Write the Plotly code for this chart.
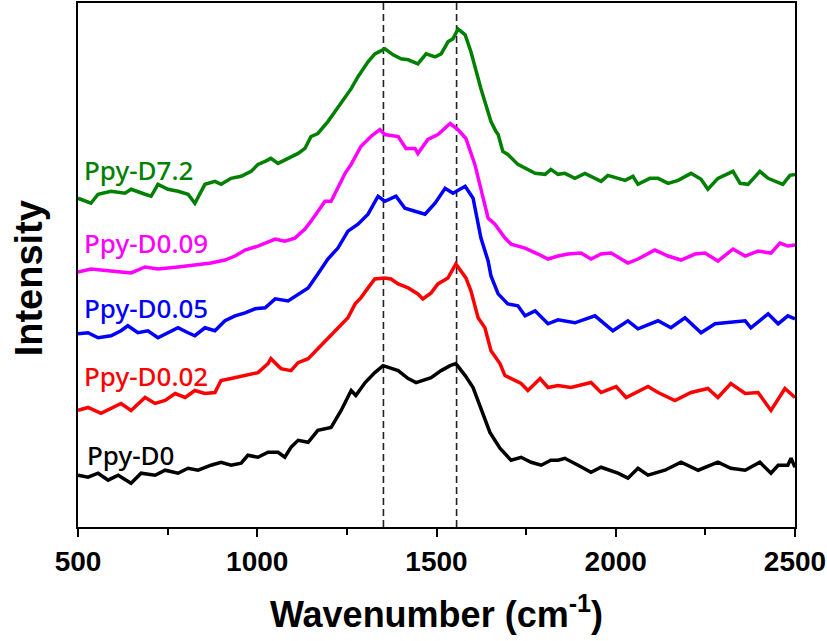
import plotly.graph_objects as go

# ---------------- data (wavenumber in cm-1, intensity in arbitrary units, offset-stacked) -------------
wn_d0 = [500, 528, 556, 584, 612, 648, 676, 715, 743, 779, 807, 835, 871, 899, 927, 955, 974, 1002,
         1030, 1058, 1077, 1094, 1114, 1142, 1169, 1206, 1234, 1262, 1275, 1301, 1328, 1351, 1393,
         1421, 1443, 1485, 1513, 1538, 1554, 1580, 1602, 1624, 1649, 1677, 1708, 1736, 1764, 1792,
         1819, 1839, 1858, 1895, 1931, 1959, 2006, 2034, 2062, 2090, 2137, 2182, 2230, 2285, 2321,
         2361, 2402, 2433, 2453, 2480, 2489, 2500]
int_d0 = [52, 50, 54, 47, 52, 44, 54, 52, 57, 54, 59, 57, 62, 65, 62, 64, 72, 70,
          75, 75, 70, 80, 87, 85, 97, 100, 117, 137, 132, 145, 155, 162, 157,
          149, 145, 150, 157, 162, 164, 152, 140, 120, 95, 79, 67, 70, 65, 62,
          67, 67, 69, 62, 55, 60, 54, 49, 59, 52, 57, 65, 57, 65, 59,
          57, 65, 54, 62, 62, 69, 60]

wn_d002 = [500, 528, 564, 592, 620, 648, 687, 715, 743, 771, 799, 826, 854, 882, 899, 927, 966, 1002,
           1030, 1038, 1066, 1094, 1114, 1142, 1169, 1197, 1225, 1253, 1273, 1289, 1309, 1328, 1356,
           1373, 1393, 1421, 1448, 1462, 1485, 1504, 1532, 1554, 1582, 1596, 1616, 1635, 1652, 1677,
           1691, 1719, 1736, 1755, 1789, 1811, 1839, 1875, 1931, 1959, 2001, 2029, 2090, 2118, 2165,
           2210, 2257, 2285, 2321, 2361, 2397, 2433, 2472, 2500]
int_d002 = [117, 120, 114, 119, 124, 117, 130, 124, 127, 134, 130, 137, 134, 135, 147, 149, 152, 155,
            164, 169, 159, 157, 165, 169, 179, 189, 199, 210, 224, 230, 240, 249, 250,
            249, 244, 240, 234, 229, 235, 244, 250, 264, 250, 237, 210, 200, 177, 164,
            152, 147, 144, 137, 149, 140, 142, 140, 145, 135, 141, 130, 141, 135, 127,
            135, 139, 130, 144, 134, 135, 117, 139, 130]

wn_d005 = [500, 528, 556, 592, 620, 639, 667, 695, 723, 751, 779, 807, 826, 854, 882, 910, 938, 966,
           994, 1022, 1050, 1086, 1114, 1142, 1169, 1197, 1225, 1253, 1281, 1309, 1337, 1356, 1387,
           1412, 1440, 1468, 1496, 1524, 1546, 1580, 1602, 1616, 1624, 1644, 1652, 1672, 1699, 1727,
           1747, 1775, 1811, 1839, 1886, 1942, 1992, 2034, 2062, 2118, 2154, 2193, 2238, 2277, 2305,
           2361, 2377, 2425, 2453, 2480, 2500]
int_d005 = [194, 195, 190, 192, 197, 202, 195, 197, 190, 195, 200, 195, 192, 200, 197, 207, 212, 215,
            219, 220, 229, 227, 234, 240, 254, 269, 280, 297, 304, 314, 332, 327, 332,
            320, 317, 314, 325, 340, 335, 342, 330, 307, 290, 267, 252, 234, 224, 222,
            212, 217, 204, 208, 205, 212, 197, 207, 199, 207, 200, 210, 195, 204, 205,
            207, 200, 214, 204, 212, 209]

wn_d009 = [500, 536, 592, 648, 687, 723, 779, 835, 871, 910, 938, 966, 1002, 1050, 1077, 1105, 1133,
           1150, 1169, 1189, 1206, 1225, 1245, 1262, 1289, 1317, 1342, 1356, 1393, 1415, 1440, 1448,
           1476, 1504, 1538, 1560, 1582, 1607, 1624, 1644, 1663, 1691, 1708, 1747, 1783, 1811, 1839,
           1867, 1903, 1931, 1959, 1987, 2015, 2034, 2062, 2090, 2109, 2146, 2182, 2221, 2249, 2285,
           2327, 2361, 2397, 2433, 2458, 2480, 2500]
int_d009 = [256, 259, 257, 255, 261, 259, 261, 263, 265, 268, 272, 278, 282, 289, 287, 290, 299,
            307, 317, 327, 327, 340, 355, 364, 382, 392, 399, 394, 392, 380, 380, 375,
            389, 394, 405, 399, 390, 364, 340, 310, 304, 290, 284, 280, 274, 269, 272,
            274, 275, 269, 274, 275, 269, 265, 269, 274, 278, 272, 268, 274, 275, 267,
            279, 272, 277, 275, 285, 282, 283]

wn_d72 = [500, 536, 556, 592, 631, 648, 687, 704, 723, 751, 779, 807, 826, 854, 882, 899, 927, 955,
          983, 1002, 1022, 1038, 1058, 1086, 1114, 1133, 1150, 1169, 1197, 1217, 1262, 1281, 1309,
          1328, 1356, 1379, 1401, 1421, 1448, 1471, 1496, 1513, 1532, 1546, 1560, 1580, 1596, 1624,
          1652, 1666, 1672, 1685, 1699, 1727, 1747, 1775, 1803, 1819, 1839, 1858, 1886, 1914, 1959,
          1978, 2026, 2048, 2062, 2095, 2118, 2146, 2174, 2210, 2238, 2257, 2285, 2327, 2347, 2369,
          2402, 2425, 2466, 2486, 2500]
int_d72 = [330, 325, 334, 337, 335, 339, 334, 332, 344, 339, 337, 334, 325, 344, 347, 344, 350, 352,
           357, 364, 367, 370, 365, 370, 375, 380, 392, 395, 407, 417, 440, 452, 467,
           475, 480, 474, 470, 469, 465, 475, 472, 475, 487, 490, 500, 494, 477, 440,
           407, 397, 394, 377, 374, 364, 360, 355, 354, 359, 354, 355, 350, 355, 347,
           353, 348, 352, 344, 350, 350, 345, 348, 355, 349, 339, 350, 357, 345, 344,
           357, 350, 344, 353, 354]

series_names = ["Ppy-D0", "Ppy-D0.02", "Ppy-D0.05", "Ppy-D0.09", "Ppy-D7.2"]
series_x = [wn_d0, wn_d002, wn_d005, wn_d009, wn_d72]
series_y = [int_d0, int_d002, int_d005, int_d009, int_d72]
series_colors = ["#000000", "#FF0000", "#0000FF", "#FF00FF", "#008000"]

band_positions = [1352, 1556]          # D and G band markers (cm-1)
x_tickvals = [500, 1000, 1500, 2000, 2500]

# label anchor positions (wavenumber, intensity)
label_x = [520, 512, 512, 512, 512]
label_y = [72, 152, 220, 285, 358]

# ---------------- figure ----------------
fig = go.Figure()
for name, xs, ys, col in zip(series_names, series_x, series_y, series_colors):
    fig.add_trace(go.Scatter(x=xs, y=ys, mode="lines", name=name,
                             line=dict(color=col, width=3.5), showlegend=False))

for bp in band_positions:
    fig.add_shape(type="line", xref="x", yref="paper", x0=bp, x1=bp, y0=0, y1=1,
                  line=dict(color="#222222", width=1.6, dash="7px,4px"), layer="below")

for name, lx, ly, col in zip(series_names, label_x, label_y, series_colors):
    fig.add_annotation(x=lx, y=ly, xref="x", yref="y", text=name, showarrow=False,
                       xanchor="left", yanchor="middle",
                       font=dict(family="Noto Sans", size=26, color=col, weight=500))

fig.add_annotation(xref="paper", yref="paper", x=-0.068, y=0.475, text="Intensity",
                   textangle=-90, showarrow=False, xanchor="center", yanchor="middle",
                   font=dict(family="Liberation Sans, Arial", size=38, color="black", weight="bold"))

fig.update_layout(
    width=827, height=641,
    margin=dict(l=78, r=32, t=1, b=114),
    plot_bgcolor="white", paper_bgcolor="white",
    xaxis=dict(range=[500, 2500], tickvals=x_tickvals, ticks="outside", ticklen=8, tickwidth=2,
               tickcolor="black", showline=True, linewidth=2, linecolor="black", mirror=True,
               showgrid=False, zeroline=False,
               minor=dict(ticks="outside", ticklen=6, tickwidth=2, tickcolor="black", dtick=250, tick0=500),
               tickfont=dict(family="Liberation Sans, Arial", size=28, color="black", weight="bold"),
               title=dict(text="Wavenumber (cm<sup>-1</sup>)", standoff=26,
                          font=dict(family="Liberation Sans, Arial", size=36, color="black", weight="bold"))),
    yaxis=dict(range=[0, 526], showticklabels=False, ticks="", showline=True, linewidth=2,
               linecolor="black", mirror=True, showgrid=False, zeroline=False),
)

fig.write_html("out.html")
